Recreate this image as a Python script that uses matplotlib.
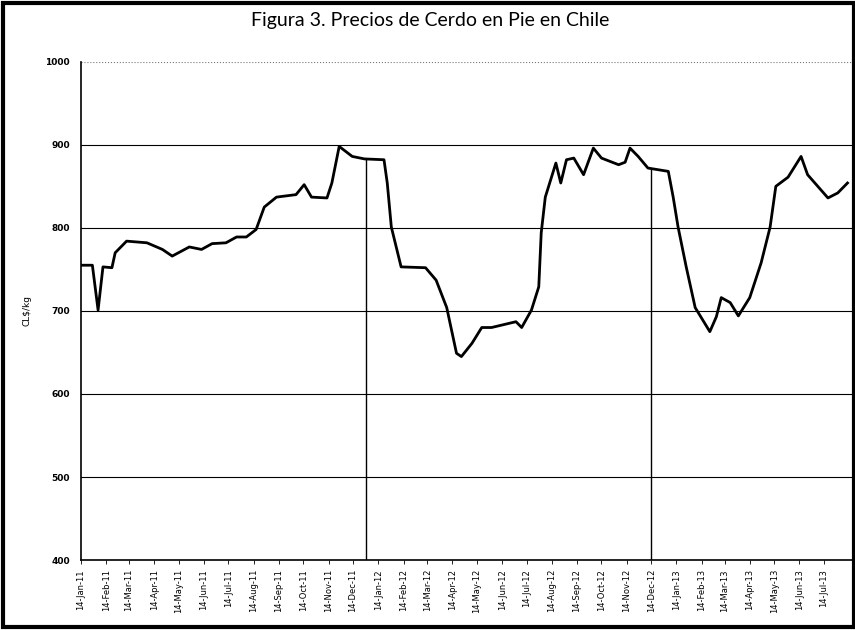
import matplotlib.pyplot as plt
import matplotlib.dates as mdates
import matplotlib.patches as patches
import numpy as np

dates = ["2011-01-14", "2011-01-28", "2011-02-04", "2011-02-10", "2011-02-21", "2011-02-25",
         "2011-03-11", "2011-04-05", "2011-04-24", "2011-05-06", "2011-05-27", "2011-06-11",
         "2011-06-24", "2011-07-11", "2011-07-24", "2011-08-05", "2011-08-17", "2011-08-27",
         "2011-09-11", "2011-10-05", "2011-10-15", "2011-10-24", "2011-11-12", "2011-11-18",
         "2011-11-27", "2011-12-13", "2011-12-28", "2012-01-21", "2012-01-25", "2012-01-30",
         "2012-02-11", "2012-03-12", "2012-03-25", "2012-04-07", "2012-04-19", "2012-04-25",
         "2012-05-08", "2012-05-20", "2012-06-01", "2012-07-01", "2012-07-08", "2012-07-20",
         "2012-07-29", "2012-08-01", "2012-08-06", "2012-08-19", "2012-08-25", "2012-09-01",
         "2012-09-10", "2012-09-22", "2012-10-04", "2012-10-14", "2012-11-04", "2012-11-12",
         "2012-11-18", "2012-11-28", "2012-12-10", "2013-01-04", "2013-01-10", "2013-01-16",
         "2013-01-26", "2013-02-06", "2013-02-24", "2013-03-04", "2013-03-10", "2013-03-21",
         "2013-03-31", "2013-04-14", "2013-04-28", "2013-05-09", "2013-05-16", "2013-05-31",
         "2013-06-16", "2013-06-24", "2013-07-19", "2013-07-31", "2013-08-12"]
precios = [755, 755, 701, 753, 752, 770,
           784, 782, 774, 766, 777, 774,
           781, 782, 789, 789, 798, 825,
           837, 840, 852, 837, 836, 854,
           898, 886, 883, 882, 854, 801,
           753, 752, 737, 704, 649, 645,
           661, 680, 680, 687, 680, 701,
           729, 794, 837, 878, 854, 882,
           884, 864, 896, 884, 876, 879,
           896, 886, 872, 868, 837, 801,
           753, 704, 675, 693, 716, 710,
           694, 716, 758, 801, 850, 861,
           886, 864, 836, 842, 854]

# lineas verticales (fin de cada año)
marcas = ["2011-12-30", "2012-12-14"]
marcas_val = [883, 872]

x = np.array(dates, dtype="datetime64[D]")
xm = np.array(marcas, dtype="datetime64[D]")

fig = plt.figure(figsize=(8.55, 6.3), dpi=100)
ax = fig.add_axes([0.0947, 0.111, 0.9013, 0.791])

for v in [500, 600, 700, 800, 900]:
    ax.axhline(v, color="black", lw=0.8, zorder=1)
ax.axhline(1000, color="#777777", lw=0.8, ls=":", zorder=1)

ax.plot(x, precios, color="black", lw=2, zorder=3)
ax.vlines(xm, 400, marcas_val, color="black", lw=1, zorder=2)

ax.set_ylim(400, 1000)
ax.set_yticks(range(400, 1001, 100))
ax.set_xlim(np.datetime64("2011-01-14"), np.datetime64("2013-08-17"))

ticks = np.array([f"{y}-{m:02d}-14" for y in (2011, 2012, 2013) for m in range(1, 13)
                  if not (y == 2013 and m > 7)], dtype="datetime64[D]")
ax.set_xticks(ticks)
ax.xaxis.set_major_formatter(mdates.DateFormatter("%d-%b-%y"))
ax.tick_params(axis="x", labelrotation=90, labelsize=6, length=3, width=0.6)
ax.tick_params(axis="y", labelsize=6.5, length=0, pad=8)
for lbl in ax.get_yticklabels():
    lbl.set_fontweight("bold")

ax.spines["top"].set_visible(False)
ax.spines["right"].set_visible(False)
ax.spines["left"].set_linewidth(1.2)
ax.spines["bottom"].set_linewidth(1.2)

ax.set_ylabel("CL$/kg", fontsize=6.5, labelpad=10)
fig.text(0.503, 0.968, "Figura 3. Precios de Cerdo en Pie en Chile", ha="center", va="center",
         fontsize=14, family="Lato")

fig.patches.append(patches.Rectangle((0.004, 0.004), 0.995, 0.992, transform=fig.transFigure,
                                     fill=False, edgecolor="black", lw=3))

fig.savefig("out.png", dpi=100)
